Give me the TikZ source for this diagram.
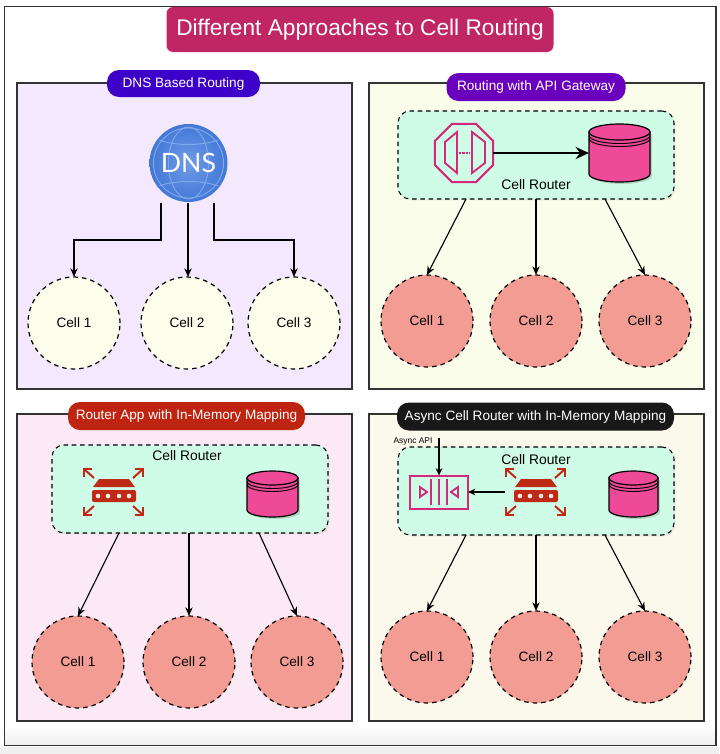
\documentclass[tikz,border=0pt]{standalone}
\usepackage{fontspec}
\setmainfont{Liberation Sans}
\newfontfamily\dnsfont{Lato}
\usetikzlibrary{arrows.meta,shapes.geometric,shadows,calc}
\definecolor{pinkdb}{HTML}{EE4A98}
\definecolor{magline}{HTML}{D22A78}
\definecolor{redicon}{HTML}{BE2A16}
\definecolor{cellred}{HTML}{F39C94}
\definecolor{cellyel}{HTML}{FDFDEB}
\definecolor{mint}{HTML}{CFFCE6}
\tikzset{
  x=0.75pt,y=-0.75pt,
  softshadow/.style={drop shadow={opacity=.14,shadow xshift=1pt,shadow yshift=-1pt}},
  panel/.style={draw=black!80,line width=0.8pt,anchor=north west,inner sep=0,outer sep=0},
  pill/.style={rounded corners=9pt,text=white,font=\fontsize{10.2pt}{12pt}\selectfont,inner sep=0,outer sep=0},
  routerbox/.style={draw=black,fill=mint,line width=0.8pt,dash pattern=on 3.4pt off 2.8pt,rounded corners=9pt,anchor=north west,inner sep=0,outer sep=0,softshadow},
  cell/.style={circle,draw=black,line width=0.9pt,dash pattern=on 3.4pt off 3pt,minimum size=69pt,inner sep=0,outer sep=0,font=\fontsize{10.2pt}{12pt}\selectfont},
  cellA/.style={cell,fill=cellyel},
  cellB/.style={cell,fill=cellred},
  link/.style={draw=black,line width=0.85pt,-{Stealth[length=6.5pt,width=5.5pt]}},
  lab/.style={font=\fontsize{10.4pt}{12pt}\selectfont,inner sep=0},
  ghost/.style={inner sep=0,outer sep=0},
}
% database: centre x, top y, half width, height, ellipse ry
\newcommand{\dbcyl}[6]{%
  \node[ghost,minimum width=#3*1.5pt,minimum height=#4*.75pt,anchor=north] (#6) at (#1,#2) {};
  \begin{scope}[shift={(#1,#2)}]
    \fill[black,opacity=.15] (-#3+2,#5+2) -- (-#3+2,#4-#5+2) arc[start angle=180,end angle=360,x radius=#3,y radius=-#5] -- (#3+2,#5+2) -- cycle;
    \draw[fill=pinkdb,draw=black,line width=.9pt] (-#3,#5) -- (-#3,#4-#5) arc[start angle=180,end angle=360,x radius=#3,y radius=-#5] -- (#3,#5) -- cycle;
    \draw[fill=pinkdb,draw=black,line width=.9pt] (0,#5) ellipse[x radius=#3,y radius=#5];
    \draw[black,line width=.7pt] (-#3,#5+3.5) arc[start angle=180,end angle=360,x radius=#3,y radius=-#5];
    \draw[black,line width=.7pt] (-#3,#5+6.5) arc[start angle=180,end angle=360,x radius=#3,y radius=-#5];
  \end{scope}}
% router icon
\newcommand{\routericon}[3]{%
  \node[ghost,minimum width=45pt,minimum height=38pt] (#3) at (#1,#2) {};
  \begin{scope}[shift={(#1,#2)}]
    \fill[redicon] (-15,-13) -- (15,-13) -- (21,-5) -- (-21,-5) -- cycle;
    \fill[redicon,rounded corners=1.5pt] (-22,-2) rectangle (22,10);
    \foreach \hx in {-16,-6,5,15} \fill[white!92!red] (\hx,4) circle[radius=2.3];
    \begin{scope}[draw=redicon,line width=1.5pt]
      \draw (-30,-15) -- (-30,-23) -- (-22,-23);
      \draw (-30,-23) -- (-20,-14);
      \draw (29,-15) -- (29,-23) -- (21,-23);
      \draw (29,-23) -- (19,-14);
      \draw (-30,15) -- (-30,23) -- (-22,23);
      \draw (-30,23) -- (-20,14);
      \draw (29,15) -- (29,23) -- (21,23);
      \draw (29,23) -- (19,14);
    \end{scope}
  \end{scope}}
\begin{document}
\begin{tikzpicture}
\useasboundingbox (0,0) rectangle (719,754);
% page
\fill[white] (0,0) rectangle (719,754);
\shade[top color=white,bottom color=black!6] (5,725) rectangle (716,745);
\fill[black!6] (0,747) rectangle (719,754);
\node[panel,minimum width=711.5*.75pt,minimum height=739*.75pt] (frame) at (4.5,6.5) {};
% panels
\node[panel,minimum width=335*.75pt,minimum height=306*.75pt,fill={rgb,255:red,243;green,232;blue,253}] (p1) at (17,83) {};
\node[panel,minimum width=335*.75pt,minimum height=306*.75pt,fill={rgb,255:red,251;green,253;blue,235}] (p2) at (369,83) {};
\node[panel,minimum width=335*.75pt,minimum height=307*.75pt,fill={rgb,255:red,252;green,233;blue,246}] (p3) at (17,414) {};
\node[panel,minimum width=335*.75pt,minimum height=307*.75pt,fill={rgb,255:red,251;green,248;blue,236}] (p4) at (369,414) {};
% title
\node[rounded corners=5pt,fill={rgb,255:red,192;green,38;blue,100},text=white,minimum width=387*.75pt,minimum height=45*.75pt,inner sep=0,font=\fontsize{17pt}{20pt}\selectfont] (title) at (360,29.5) {Different Approaches to Cell Routing};
% pills
\node[pill,fill={rgb,255:red,60;green,0;blue,200},minimum width=153*.75pt,minimum height=27*.75pt] (l1) at (183.5,83.5) {DNS Based Routing};
\node[pill,fill={rgb,255:red,106;green,0;blue,190},minimum width=179*.75pt,minimum height=28*.75pt] (l2) at (536,87) {Routing with API Gateway};
\node[pill,fill={rgb,255:red,190;green,36;blue,16},minimum width=237*.75pt,minimum height=28*.75pt] (l3) at (186.5,416) {Router App with In-Memory Mapping};
\node[pill,fill={rgb,255:red,24;green,24;blue,24},minimum width=277*.75pt,minimum height=28*.75pt] (l4) at (535.5,416.5) {Async Cell Router with In-Memory Mapping};
% DNS globe
\node[circle,minimum size=78*.75pt,inner sep=0,outer sep=0,inner color={rgb,255:red,112;green,155;blue,232},outer color={rgb,255:red,66;green,120;blue,214}] (dns) at (188.5,163) {};
\begin{scope}
  \clip (188.5,163) circle[radius=37];
  \begin{scope}[draw={rgb,255:red,128;green,168;blue,236},line width=.7pt]
    \draw (188.5,163) circle[radius=35];
    \draw (188.5,163) ellipse[x radius=20,y radius=36];
    \draw (159,140) .. controls (175,146) and (202,146) .. (218,140);
    \draw (159,186) .. controls (175,180) and (202,180) .. (218,186);
  \end{scope}
\end{scope}
\node[text=white,inner sep=0,font=\dnsfont\fontsize{20pt}{22pt}\selectfont] (dnstext) at (188.5,163) {DNS};
% panel 1 cells
\node[cellA] (a1) at (74,323) {Cell 1};
\node[cellA] (a2) at (187,323) {Cell 2};
\node[cellA] (a3) at (294,323) {Cell 3};
\coordinate (dl) at (161,203);
\coordinate (dm) at (188,203);
\coordinate (dr) at (214,203);
\draw[link] (dl) |- (130,240) -| (a1.north);
\draw[link] (dm) -- (dm |- a2.north);
\draw[link] (dr) |- (250,240) -| (a3.north);
% panel 2
\node[routerbox,minimum width=276*.75pt,minimum height=88*.75pt] (r2) at (398,111) {};
\node[regular polygon,regular polygon sides=8,draw=magline,line width=1.5pt,minimum size=63*.75pt,inner sep=0,outer sep=0] (gw) at (464,153) {};
\draw[magline,line width=1.4pt,line join=miter] (457,132) -- (457,173) -- (445,163) -- (445,142) -- cycle;
\draw[magline,line width=1.4pt,line join=miter] (472,132) -- (472,173) -- (485,163) -- (485,142) -- cycle;
\draw[magline,line width=1.4pt,dash pattern=on 1.6pt off 1pt] (459,153) -- (470,153);
\dbcyl{619.5}{124}{30.5}{58}{8}{db2}
\draw[line width=2.1pt,draw=black,-{Stealth[length=10pt,width=9pt]}] (gw.east) -- (db2.west |- gw.east);
\node[lab] (t2) at (536,185) {Cell Router};
\node[cellB] (b1) at (427,321) {Cell 1};
\node[cellB] (b2) at (536,321) {Cell 2};
\node[cellB] (b3) at (645,321) {Cell 3};
\coordinate (r2l) at (466,199);
\coordinate (r2m) at (536,199);
\coordinate (r2r) at (605,199);
\draw[link] (r2l) -- (b1.north);
\draw[link] (r2m) -- (b2.north);
\draw[link] (r2r) -- (b3.north);
% panel 3
\node[routerbox,minimum width=276*.75pt,minimum height=88*.75pt] (r3) at (52,445) {};
\node[lab] (t3) at (187,456) {Cell Router};
\routericon{114}{492}{ri3}
\dbcyl{272.5}{471}{25.5}{46}{7}{db3}
\node[cellB] (c1) at (78,662) {Cell 1};
\node[cellB] (c2) at (189,662) {Cell 2};
\node[cellB] (c3) at (297,662) {Cell 3};
\coordinate (r3l) at (119,533);
\coordinate (r3m) at (189,533);
\coordinate (r3r) at (259,533);
\draw[link] (r3l) -- (c1.north);
\draw[link] (r3m) -- (c2.north);
\draw[link] (r3r) -- (c3.north);
% panel 4
\node[routerbox,minimum width=276*.75pt,minimum height=88*.75pt] (r4) at (398,447) {};
\node[lab] (t4) at (536,460) {Cell Router};
\node[ghost,draw=magline,line width=1.5pt,minimum width=58*.75pt,minimum height=33*.75pt] (q) at (439,492) {};
\foreach \qx in {-8,0,8} \draw[magline,line width=1.4pt] (439+\qx,479) -- (439+\qx,505);
\draw[magline,line width=1.4pt] (420,487) -- (427,492) -- (420,497) -- cycle;
\draw[magline,line width=1.4pt] (458,487) -- (451,492) -- (458,497) -- cycle;
\routericon{536}{492}{ri4}
\dbcyl{633.5}{471}{24.5}{46}{7}{db4}
\coordinate (apistart) at (439,438);
\node[inner sep=0,font=\fontsize{6.3pt}{8pt}\selectfont] (api) at (413,441) {Async API};
\draw[link,-{Stealth[length=5.5pt,width=5pt]}] (apistart) -- (q.north);
\coordinate (qfrom) at (505,492);
\draw[link,-{Stealth[length=5.5pt,width=5pt]}] (qfrom) -- (q.east);
\node[cellB] (d1) at (427,657) {Cell 1};
\node[cellB] (d2) at (536,657) {Cell 2};
\node[cellB] (d3) at (645,657) {Cell 3};
\coordinate (r4l) at (466,535);
\coordinate (r4m) at (536,535);
\coordinate (r4r) at (605,535);
\draw[link] (r4l) -- (d1.north);
\draw[link] (r4m) -- (d2.north);
\draw[link] (r4r) -- (d3.north);
\end{tikzpicture}
\end{document}
